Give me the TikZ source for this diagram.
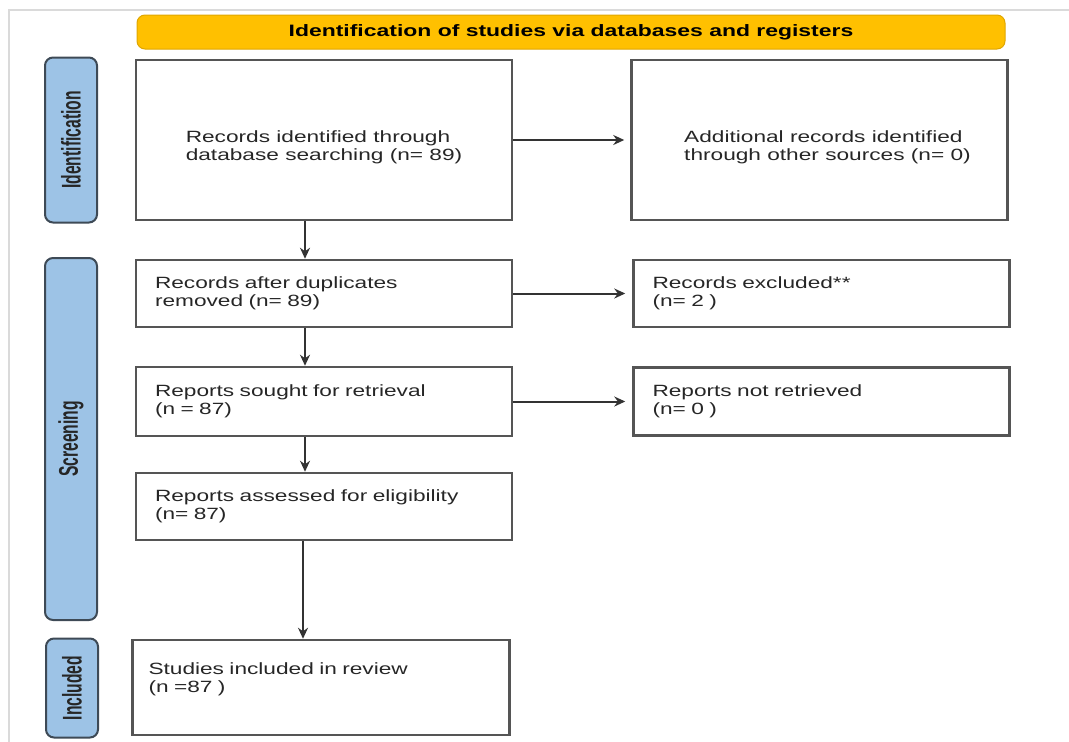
\documentclass[tikz,border=0pt]{standalone}
\usepackage{fontspec}
\newfontfamily\boxfont[FakeStretch=1.39]{Liberation Sans}
\newfontfamily\tagfont[FakeStretch=0.58]{Liberation Sans}
\usetikzlibrary{positioning,arrows.meta}
\definecolor{headfill}{HTML}{FFC000}
\definecolor{headline}{HTML}{E0A600}
\definecolor{tagfill}{HTML}{9DC3E6}
\definecolor{tagline}{HTML}{3E4A56}
\definecolor{boxline}{HTML}{555555}
\definecolor{frameline}{HTML}{DADADA}

\begin{document}
\begin{tikzpicture}[x=1pt,y=1pt,>={Stealth[length=11pt,width=10pt]},
		every edge/.style={draw=black!80,line width=2pt},
		big box/.style={draw=boxline,line width=2.5pt,minimum width=376pt,minimum height=160pt,text height=44pt,align=left,text=black!85,font=\boxfont\fontsize{16.3}{18}\selectfont},
		small box/.style={draw=boxline,line width=2.5pt,text width=338pt,inner xsep=19pt,minimum height=67pt,align=left,text=black!85,font=\boxfont\fontsize{16.3}{18}\selectfont},
		tag node/.style={draw=tagline,fill=tagfill,line width=2pt,rounded corners=8pt,rotate=90,minimum height=52pt,text=black!85,font=\tagfont\bfseries\fontsize{27}{27}\selectfont}]
		\useasboundingbox (0,0) rectangle (1069,-742);
		\draw[frameline,line width=2pt] (9,-742) -- (9,-10) -- (1069,-10);
		% 标题
		\node[draw=headline,fill=headfill,line width=1pt,rounded corners=8pt,minimum width=868pt,minimum height=34pt,font=\boxfont\bfseries\fontsize{16.5}{18}\selectfont] (head) at (571,-32) {Identification of studies via databases and registers};
		% 左侧阶段
		\node[tag node,minimum width=165pt] (tag1) at (71,-140) {Identification};
		\node[tag node,minimum width=362pt] (tag2) at (71,-439) {Screening};
		\node[tag node,minimum width=99pt] (tag3) at (72,-688) {Included};
		% 流程框
		\node[big box] (box1) at (324,-140) {Records identified through\\database searching (n= 89)};
		\node[big box] (box2) [right=117pt of box1] {\hspace*{16pt}Additional records identified\\\hspace*{16pt}through other sources (n= 0)};
		\node[small box] (box3) [below=37.5pt of box1] {Records after duplicates\\removed (n= 89)};
		\node[small box] (box4) [right=119pt of box3] {Records excluded**\\(n= 2 )};
		\node[small box,minimum height=69pt] (box5) [below=37.5pt of box3] {Reports sought for retrieval\\(n = 87)};
		\node[small box,minimum height=68pt] (box6) [right=119pt of box5] {Reports not retrieved\\(n= 0 )};
		\node[small box] (box7) [below=34.5pt of box5] {Reports assessed for eligibility\\(n= 87)};
		\node[small box,text width=345pt,inner xsep=16pt,minimum height=95pt,text depth=38pt] (box8) [below=97.5pt of box7,xshift=-3pt] {Studies included in review\\(n =87 )};
		\path[->]
		(box1) edge [shorten >=6pt] (box2)
		(box3) edge [shorten >=7pt] (box4)
		(box5) edge [shorten >=7pt] (box6)
		([xshift=-19pt]box1.south) edge ([xshift=-19pt]box3.north)
		([xshift=-19pt]box3.south) edge ([xshift=-19pt]box5.north)
		([xshift=-19pt]box5.south) edge ([xshift=-19pt]box7.north)
		([xshift=-21pt]box7.south) edge ([xshift=-18pt]box8.north);
\end{tikzpicture}
\end{document}
